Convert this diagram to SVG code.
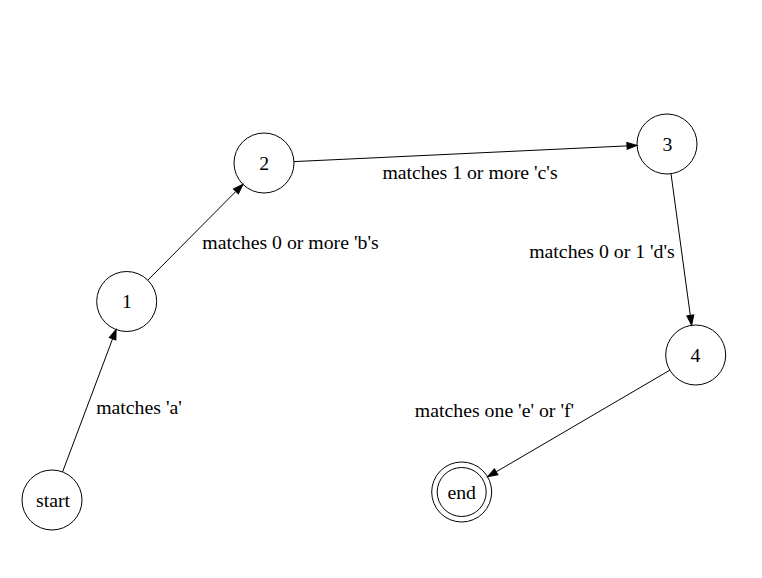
<svg xmlns="http://www.w3.org/2000/svg" width="762" height="578" viewBox="0 0 762 578">
<style>
  .node circle { fill: none; stroke: #000; stroke-width: 1; }
  text { font-family: "Liberation Serif", "Times New Roman", Times, serif; font-size: 19.8px; fill: #000; text-anchor: middle; }
  .edge line { stroke: #000; stroke-width: 1; }
</style>
<defs>
  <marker id="arrow" markerUnits="userSpaceOnUse" markerWidth="10" markerHeight="7" refX="0" refY="3.5" orient="auto" overflow="visible">
    <path d="M0,0 L10,3.5 L0,7 z" fill="#000" stroke="#000" stroke-width="1"/>
  </marker>
</defs>
<rect width="762" height="578" fill="#fff"/>
<g id="edges" class="edge">
  <line x1="62.6" y1="471.9" x2="112.6" y2="338.8" marker-end="url(#arrow)"/>
  <line x1="147.8" y1="280.2" x2="235.9" y2="191.4" marker-end="url(#arrow)"/>
  <line x1="294" y1="161.6" x2="627.0" y2="145.9" marker-end="url(#arrow)"/>
  <line x1="671" y1="173.7" x2="690.3" y2="315.4" marker-end="url(#arrow)"/>
  <line x1="669.8" y1="370.2" x2="496.2" y2="471.8" marker-end="url(#arrow)"/>
  <text x="139" y="414">matches 'a'</text>
  <text x="290.5" y="249">matches 0 or more 'b's</text>
  <text x="470" y="179">matches 1 or more 'c's</text>
  <text x="602" y="258">matches 0 or 1 'd's</text>
  <text x="494.5" y="417">matches one 'e' or 'f'</text>
</g>
<g id="node-start" class="node">
  <circle cx="52" cy="500" r="30"/>
  <text x="53" y="506.5">start</text>
</g>
<g id="node-1" class="node">
  <circle cx="126.7" cy="301.5" r="30"/>
  <text x="127" y="307.5">1</text>
</g>
<g id="node-2" class="node">
  <circle cx="264" cy="163" r="30"/>
  <text x="264.3" y="169.5">2</text>
</g>
<g id="node-3" class="node">
  <circle cx="667" cy="144" r="30"/>
  <text x="667.5" y="150.5">3</text>
</g>
<g id="node-4" class="node">
  <circle cx="695.7" cy="355" r="30"/>
  <text x="695.5" y="361.5">4</text>
</g>
<g id="node-end" class="node">
  <circle cx="461.7" cy="492" r="30"/>
  <circle cx="461.7" cy="492" r="24.5"/>
  <text x="461.7" y="498.5">end</text>
</g>
</svg>
